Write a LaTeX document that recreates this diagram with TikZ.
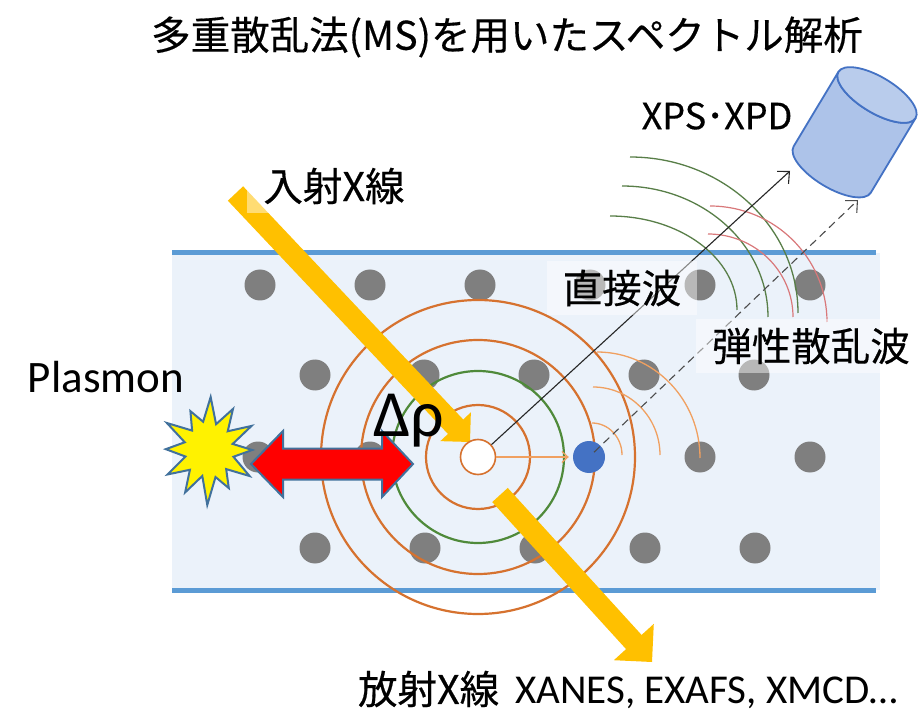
\documentclass[tikz,border=0pt]{standalone}
\usepackage{fontspec}
\setmainfont{Carlito}
\newfontfamily\jp[FakeBold=0.4]{Noto Sans CJK JP}
\usetikzlibrary{arrows.meta,calc}

\definecolor{slab}{HTML}{EBF2FA}
\definecolor{slabline}{HTML}{5B9BD5}
\definecolor{atom}{HTML}{7F7F7F}
\definecolor{atomblue}{HTML}{4472C4}
\definecolor{ringorange}{HTML}{D6722F}
\definecolor{ringgreen}{HTML}{4F8A3A}
\definecolor{beam}{HTML}{FFC000}
\definecolor{wavegreen}{HTML}{587E48}
\definecolor{wavered}{HTML}{D9787A}
\definecolor{scatorange}{HTML}{F0A060}
\definecolor{edgeblue}{HTML}{41719C}
\definecolor{detfill}{HTML}{ADC3E9}
\definecolor{detline}{HTML}{4472C4}

% block arrow: #1 tail, #2 tip, #3 half shaft width, #4 half head width, #5 head length
\newcommand{\beamarrow}[5]{%
  \coordinate (ba-base) at ($(#2)!#5!(#1)$);
  \fill[beam] ($(#1)!#3!90:(#2)$) -- ($(ba-base)!#3!-90:(#1)$)
    -- ($(ba-base)!#4!-90:(#1)$) -- (#2) -- ($(ba-base)!#4!90:(#1)$)
    -- ($(ba-base)!#3!90:(#1)$) -- ($(#1)!#3!-90:(#2)$) -- cycle;}

\tikzset{
  atomdot/.style={fill=atom},
  ring/.style={draw=ringorange, line width=2.2pt},
  greenring/.style={draw=ringgreen, line width=2.2pt},
  wave/.style={draw=wavegreen, line width=1.3pt},
  redwave/.style={draw=wavered, line width=1.2pt},
  scatwave/.style={draw=scatorange, line width=1.3pt},
  lbl/.style={fill=white, fill opacity=0.45, text opacity=1, inner xsep=16pt, inner ysep=9pt},
  jplabel/.style={font=\jp\fontsize{39.5}{42}\selectfont},
}

\begin{document}
\begin{tikzpicture}[x=1pt, y=-1pt]
\useasboundingbox (0,0) rectangle (922,714);
\fill[white] (0,0) rectangle (922,714);

% sample slab
\fill[slab] (172,253) rectangle (880,590);
\draw[slabline, line width=5pt] (172,253) -- (876,253);
\draw[slabline, line width=5pt] (172,590) -- (876,590);

% lattice atoms
\foreach \x in {260,370,480,590,700,810} \fill[atomdot] (\x,285) circle[radius=15.5];
\foreach \x in {315,424,534,644,754} \fill[atomdot] (\x,375) circle[radius=15.5];
\foreach \x in {258,370,700,810} \fill[atomdot] (\x,457) circle[radius=15.5];
\foreach \x in {315,425,535,645,755} \fill[atomdot] (\x,548) circle[radius=15.5];

% spherical waves around the absorbing atom
\coordinate (c0) at (478,457);
\draw[ring] (c0) circle[radius=52];
\draw[greenring] (c0) circle[radius=86];
\draw[ring] (c0) circle[radius=117];
\draw[ring] (c0) circle[radius=157];

% incident and emitted X-ray beams
\coordinate (inT) at (235.5,193.5);
\coordinate (inP) at (470,442);
\beamarrow{inT}{inP}{10.5pt}{21pt}{21pt}
\coordinate (outT) at (500,495);
\coordinate (outP) at (652,662);
\beamarrow{outT}{outP}{10.5pt}{27pt}{27pt}

% absorbing atom and scattering atom
\node[circle, draw=ringorange, fill=white, line width=1.6pt, minimum size=35pt, inner sep=0pt] (abs) at (c0) {};
\node[circle, fill=atomblue, minimum size=32pt, inner sep=0pt] (scat) at (589,457) {};

% scattered wavelets around the scattering atom
\draw[scatwave] (592,423) arc[start angle=-90, end angle=0, x radius=30, y radius=32];
\draw[scatwave] (593,387) arc[start angle=-90, end angle=0, x radius=67, y radius=68];
\draw[scatwave] (597,352) arc[start angle=-90, end angle=0, x radius=103, y radius=106];

% outgoing wave fronts
\draw[wave] (630,157) arc[start angle=-90, end angle=0, x radius=168, y radius=156];
\draw[wave] (622,186) arc[start angle=-90, end angle=0, x radius=146, y radius=131];
\draw[wave] (610,216) arc[start angle=-90, end angle=0, x radius=127, y radius=94];
\draw[redwave] (710,206) arc[start angle=-90, end angle=0, x radius=117, y radius=116];
\draw[redwave] (708,234) arc[start angle=-90, end angle=0, x radius=85, y radius=83];

% paths to the detector
\coordinate (dirtip) at (790,171);
\coordinate (sctip) at (858,200);
\draw[black!85, line width=1.1pt, -{Straight Barb[length=9pt, width=17pt]}] (abs) -- (dirtip);
\draw[black!70, line width=1.1pt, dash pattern=on 8pt off 5pt, shorten <=7pt,
      -{Straight Barb[length=9pt, width=17pt]}] (scat.center) -- (sctip);
\draw[scatorange, line width=1.2pt, shorten >=4pt, -{Straight Barb[length=6pt, width=11pt]}] (abs) -- (scat);

% plasmon excitation
\draw[edgeblue, line width=2pt, fill=red, line join=miter]
  (251,464) -- (283,431) -- (283,448.5) -- (382,448.5) -- (382,431) -- (413,464)
  -- (382,497) -- (382,479.5) -- (283,479.5) -- (283,497) -- cycle;
\begin{scope}[shift={(209,450)}, xscale=0.9]
  \draw[edgeblue, line width=2pt, fill=yellow, line join=miter]
    (0:48) -- (14:28) -- (30:52) -- (45:27) -- (60:44) -- (75:28) -- (92:55)
    -- (106:27) -- (122:50) -- (137:29) -- (152:52) -- (166:27) -- (181:48)
    -- (196:28) -- (210:54) -- (226:27) -- (242:44) -- (257:29) -- (272:53)
    -- (287:27) -- (303:49) -- (318:28) -- (333:53) -- (347:27) -- cycle;
\end{scope}

% detector
\begin{scope}[shift={(877,95)}, rotate=-31]
  \filldraw[fill=detfill, draw=detline, line width=1.8pt, line join=round]
    (-45,0) -- (-45,87) arc[start angle=180, end angle=0, x radius=45, y radius=18]
    -- (45,0) arc[start angle=0, end angle=180, x radius=45, y radius=18] -- cycle;
  \filldraw[fill=detfill!85!white, draw=detline, line width=1.8pt] (0,0) ellipse[x radius=45, y radius=18];
\end{scope}

% labels
\node[font=\jp\fontsize{39.5}{42}\selectfont] (title) at (507,37) {多重散乱法(MS)を用いたスペクトル解析};
\node[lbl, jplabel] (inlbl) at (334,186) {入射X線};
\node[font=\jp\fontsize{36}{40}\selectfont] (xps) at (717,116) {XPS･XPD};
\node[lbl, jplabel] (direct) at (622,288) {直接波};
\node[lbl, jplabel] (elastic) at (811,346) {弾性散乱波};
\node[font=\fontsize{45}{50}\selectfont] (plasmon) at (106,377) {Plasmon};
\node[font=\fontsize{66}{70}\selectfont, anchor=base west, inner sep=0pt] (drho) at (373,436) {Δρ};
\node[lbl, font=\fontsize{41}{44}\selectfont] (emit) at (628,690) {{\jp\fontsize{39.5}{42}\selectfont 放射X線}\hspace{16pt}XANES, EXAFS, XMCD…};
\end{tikzpicture}
\end{document}
